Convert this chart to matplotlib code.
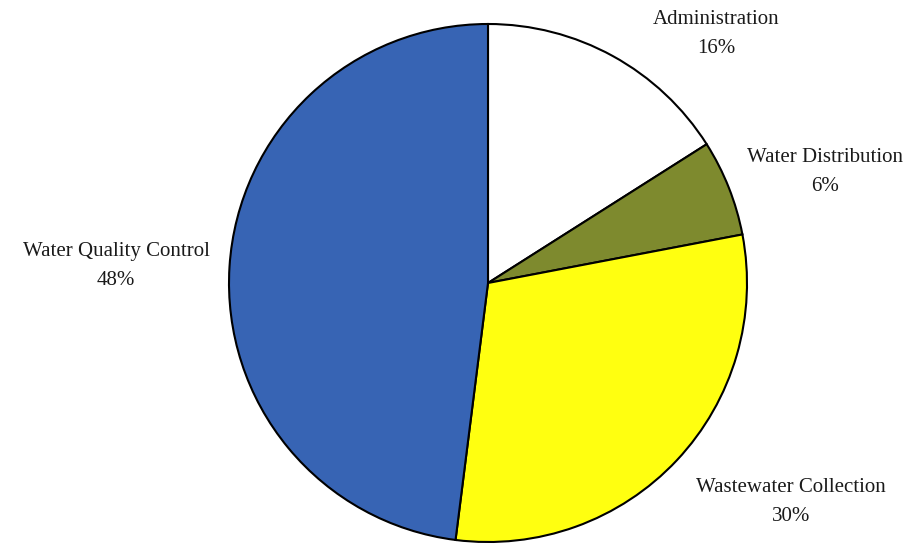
import matplotlib
matplotlib.use("Agg")
import matplotlib.pyplot as plt

categories = ["Administration", "Water Distribution", "Wastewater Collection", "Water Quality Control"]
shares = [16, 6, 30, 48]
colors = ["#ffffff", "#7e8a2e", "#ffff10", "#3764b4"]

fig = plt.figure(figsize=(9.15, 5.44), dpi=100)
ax = fig.add_axes([0, 0, 1, 1])

ax.pie(shares, colors=colors, startangle=90, counterclock=False,
       center=(488, 261), radius=259,
       wedgeprops=dict(edgecolor="black", linewidth=1.5))
ax.set_xlim(0, 915)
ax.set_ylim(0, 544)
ax.set_aspect("equal")
ax.axis("off")

label_pos = [(716, 510), (825, 372), (791, 42), (116, 278)]
for name, val, (x, y) in zip(categories, shares, label_pos):
    ax.text(x, y, f"{name}\n{val}%", ha="center", va="center",
            fontsize=15, family="Liberation Serif", linespacing=1.67,
            color="#1a1a1a")

fig.savefig("out.png", dpi=100)
